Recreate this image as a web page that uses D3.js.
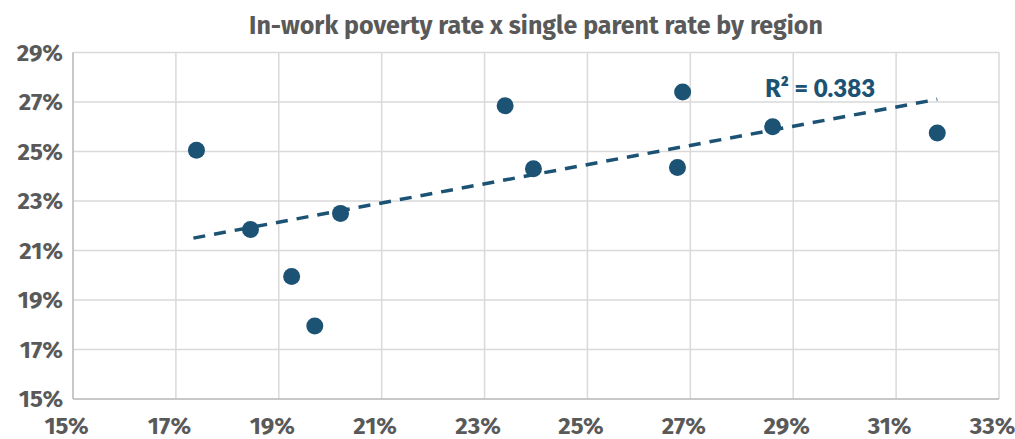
<!DOCTYPE html>
<html><head><meta charset="utf-8">
<script src="https://cdn.jsdelivr.net/npm/d3@7"></script>
<style>body{margin:0;background:#fff}svg{display:block}</style>
</head><body><svg id="c" width="1015" height="439"></svg>
<script>
const title = "In-work poverty rate x single parent rate by region";
const singleParentRate = [17.4, 18.45, 19.25, 19.7, 20.2, 23.4, 23.95, 26.75, 26.85, 28.6, 31.8];
const inWorkPovertyRate = [25.05, 21.85, 19.95, 17.95, 22.5, 26.85, 24.3, 24.35, 27.4, 26.0, 25.75];
const xTicks = [15, 17, 19, 21, 23, 25, 27, 29, 31, 33];
const yTicks = [15, 17, 19, 21, 23, 25, 27, 29];

const svg = d3.select("#c");
const x = d3.scaleLinear().domain([15, 33]).range([73, 999]);
const y = d3.scaleLinear().domain([15, 29]).range([399, 52.5]);
const color = "#1c5273";
const grey = "#595959";
const font = "'Fira Sans','Open Sans',sans-serif";

// gridlines
svg.append("g").selectAll("line").data(xTicks).join("line")
  .attr("x1", d => x(d)).attr("x2", d => x(d)).attr("y1", y(29)).attr("y2", y(15))
  .attr("stroke", "#d9d9d9").attr("stroke-width", 1.5);
svg.append("g").selectAll("line").data(yTicks).join("line")
  .attr("x1", x(15)).attr("x2", x(33)).attr("y1", d => y(d)).attr("y2", d => y(d))
  .attr("stroke", "#d9d9d9").attr("stroke-width", 1.5);
// axes lines
svg.append("line").attr("x1", x(15)).attr("x2", x(15)).attr("y1", y(29)).attr("y2", y(15)).attr("stroke", "#bfbfbf").attr("stroke-width", 1.5);
svg.append("line").attr("x1", x(15)).attr("x2", x(33)).attr("y1", y(15)).attr("y2", y(15)).attr("stroke", "#bfbfbf").attr("stroke-width", 1.5);

// axis labels
const xAxis = d3.axisBottom(x).tickValues(xTicks).tickFormat(d => d + "%").tickSize(0).tickPadding(18);
const gx = svg.append("g").attr("transform", `translate(-7,${y(15)})`).call(xAxis);
gx.select(".domain").remove();
gx.selectAll("text").attr("font-family", font).attr("font-size", 24).attr("font-weight", 700).attr("fill", grey);
const yAxis = d3.axisLeft(y).tickValues(yTicks).tickFormat(d => d + "%").tickSize(0).tickPadding(10);
const gy = svg.append("g").attr("transform", `translate(${x(15)},0)`).call(yAxis);
gy.select(".domain").remove();
gy.selectAll("text").attr("font-family", font).attr("font-size", 24).attr("font-weight", 700).attr("fill", grey);

// title
svg.append("text").attr("x", 536).attr("y", 34).attr("text-anchor", "middle")
  .attr("font-family", font).attr("font-size", 25).attr("font-weight", 700).attr("fill", grey).text(title);

// regression
const n = singleParentRate.length;
const mx = d3.mean(singleParentRate), my = d3.mean(inWorkPovertyRate);
let sxy = 0, sxx = 0;
for (let i = 0; i < n; i++) {
  sxy += (singleParentRate[i]-mx)*(inWorkPovertyRate[i]-my);
  sxx += (singleParentRate[i]-mx)**2;
}
const slope = sxy/sxx, icpt = my - slope*mx;
const xr = d3.extent(singleParentRate);
const xs = xr[0] - 0.06, xe = xr[1];
svg.append("line")
  .attr("x1", x(xs)).attr("y1", y(icpt + slope*xs))
  .attr("x2", x(xe)).attr("y2", y(icpt + slope*xe))
  .attr("stroke", color).attr("stroke-width", 3.5).attr("stroke-dasharray", "12,9");

// points
svg.append("g").selectAll("circle").data(singleParentRate).join("circle")
  .attr("cx", d => x(d)).attr("cy", (d, i) => y(inWorkPovertyRate[i])).attr("r", 8.5).attr("fill", color);

svg.append("text").attr("x", 820).attr("y", 97).attr("text-anchor", "middle")
  .attr("font-family", "Lato, sans-serif").attr("font-size", 24).attr("font-weight", 800).attr("fill", color)
  .text("R² = 0.383");
</script></body></html>
